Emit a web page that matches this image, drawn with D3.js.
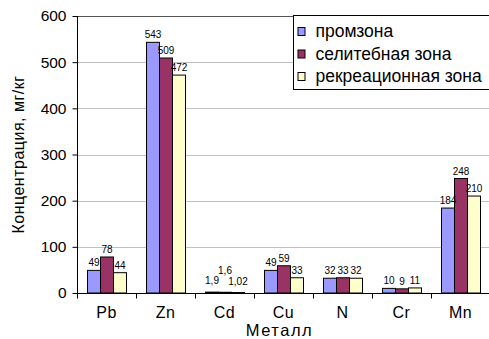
<!DOCTYPE html>
<html>
<head>
<meta charset="utf-8">
<script src="https://cdn.jsdelivr.net/npm/d3@7"></script>
<style>
  html, body { margin: 0; padding: 0; background: #fff; }
  svg { display: block; font-family: Arial, "Liberation Sans", sans-serif; }
</style>
</head>
<body>
<svg id="chart" width="489" height="339"></svg>
<script>
// Metals measured
const metals = ["Pb", "Zn", "Cd", "Cu", "N", "Cr", "Mn"];
// Zones
const zones = ["промзона", "селитебная зона", "рекреационная зона"];
// Concentration per zone, mg/kg
const promzona   = [49, 543, 1.9, 49, 32, 10, 184];
const selitebnaya = [78, 509, 1.6, 59, 33, 9, 248];
const rekreatsionnaya = [44, 472, 1.02, 33, 32, 11, 210];
const yTicks = [0, 100, 200, 300, 400, 500, 600];
const zoneColors = ["#9999ff", "#993366", "#ffffcc"];

const series = [promzona, selitebnaya, rekreatsionnaya];
const fmt = v => String(v).replace(".", ",");

const svg = d3.select("#chart");
const m = { left: 77, right: 490, top: 16, bottom: 293 };

const x = d3.scaleBand().domain(metals).range([m.left, m.right]);
const groupW = 39;
const xi = d3.scaleBand().domain(d3.range(zones.length))
  .range([0, groupW]);
const y = d3.scaleLinear().domain([0, 600]).range([m.bottom, m.top]);

// Horizontal gridlines
svg.append("g").selectAll("line").data(yTicks.filter(t => t > 0 && t < 600)).join("line")
  .attr("x1", m.left).attr("x2", m.right)
  .attr("y1", d => Math.round(y(d)) + 0.5).attr("y2", d => Math.round(y(d)) + 0.5)
  .attr("stroke", "#c0c0c0").attr("stroke-width", 1);
// Top border of plot area
svg.append("line")
  .attr("x1", m.left).attr("x2", m.right)
  .attr("y1", Math.round(y(600)) + 0.5).attr("y2", Math.round(y(600)) + 0.5)
  .attr("stroke", "#555").attr("stroke-width", 1);

// Bars
const groups = svg.append("g").selectAll("g").data(metals).join("g")
  .attr("transform", d => `translate(${x(d) + (x.bandwidth() - groupW) / 2},0)`);

groups.selectAll("rect").data((d, i) => series.map((s, k) => ({ k, v: s[i] }))).join("rect")
  .attr("x", d => xi(d.k) + 0.5)
  .attr("width", xi.bandwidth())
  .attr("y", d => y(d.v))
  .attr("height", d => Math.max(0, y(0) - y(d.v)))
  .attr("fill", d => zoneColors[d.k])
  .attr("stroke", "#000").attr("stroke-width", 1);

// Value labels, spread apart when they collide within a group
groups.each(function (d, i) {
  const g = d3.select(this);
  const labels = series.map((s, k) => g.append("text")
      .attr("x", xi(k) + xi.bandwidth() / 2 + 0.5)
      .attr("y", y(s[i]) - 4)
      .attr("text-anchor", "middle")
      .attr("font-size", 10)
      .attr("fill", "#000")
      .text(fmt(s[i])));
  const boxes = labels.map(t => t.node().getBBox());
  const overlap = (a, b) => a.x + a.width > b.x && b.x + b.width > a.x &&
                            a.y + a.height > b.y && b.y + b.height > a.y;
  if (overlap(boxes[0], boxes[1]) || overlap(boxes[1], boxes[2])) {
    labels[1].attr("y", +labels[1].attr("y") - 10);
    labels.forEach(t => t.attr("y", +t.attr("y") - 4));
    const b0 = labels[0].node().getBBox(), b2 = labels[2].node().getBBox();
    if (b0.x + b0.width + 2 > b2.x) {
      labels[0].attr("x", +labels[0].attr("x") - (b0.x + b0.width + 2 - b2.x) - 1);
      labels[2].attr("x", +labels[2].attr("x") - 1.5);
    }
  }
});

// Y axis
const yAxis = svg.append("g").attr("transform", `translate(${m.left + 0.5},0)`)
  .call(d3.axisLeft(y).tickValues(yTicks).tickSize(5).tickPadding(6).tickFormat(d3.format("d")));
yAxis.select(".domain").attr("stroke", "#000").attr("d", `M0,${y(600)}V${y(0)}`);
yAxis.selectAll(".tick line").attr("stroke", "#000");
yAxis.selectAll("text").attr("font-size", 15.5).attr("fill", "#000")
  .attr("font-family", "Arial, 'Liberation Sans', sans-serif");

// X axis with ticks between categories
const xAxisG = svg.append("g").attr("transform", `translate(0,${Math.round(y(0)) + 0.5})`);
xAxisG.append("line").attr("x1", m.left).attr("x2", m.right).attr("stroke", "#000");
xAxisG.selectAll("line.tk").data(metals.map(d => x(d)).concat([m.right - 0.5])).join("line")
  .attr("class", "tk")
  .attr("x1", d => Math.round(d) + 0.5).attr("x2", d => Math.round(d) + 0.5)
  .attr("y1", 0).attr("y2", 5).attr("stroke", "#000");
xAxisG.selectAll("text").data(metals).join("text")
  .attr("x", d => x(d) + x.bandwidth() / 2)
  .attr("y", 24.5)
  .attr("text-anchor", "middle")
  .attr("font-size", 16)
  .attr("letter-spacing", 0.5)
  .text(d => d);

// Axis titles
svg.append("text")
  .attr("x", (m.left + m.right) / 2 - 4).attr("y", 335.5)
  .attr("text-anchor", "middle").attr("font-size", 16.5)
  .attr("letter-spacing", 1.5)
  .text("Металл");
svg.append("text")
  .attr("transform", `translate(24,${(m.top + m.bottom) / 2}) rotate(-90)`)
  .attr("text-anchor", "middle").attr("font-size", 16)
  .attr("letter-spacing", 0.5)
  .text("Концентрация, мг/кг");

// Legend
const lg = svg.append("g").attr("transform", "translate(293.5,15.5)");
lg.append("rect").attr("width", 200).attr("height", 74)
  .attr("fill", "#fff").attr("stroke", "#000");
zones.forEach((z, k) => {
  const row = lg.append("g").attr("transform", `translate(0,${21.5 + k * 22.5})`);
  row.append("rect").attr("x", 4.5).attr("y", -9.5).attr("width", 7).attr("height", 8)
    .attr("fill", zoneColors[k]).attr("stroke", "#000");
  row.append("text").attr("x", 22).attr("y", 0).attr("font-size", 17.5).text(z);
});
</script>
</body>
</html>
